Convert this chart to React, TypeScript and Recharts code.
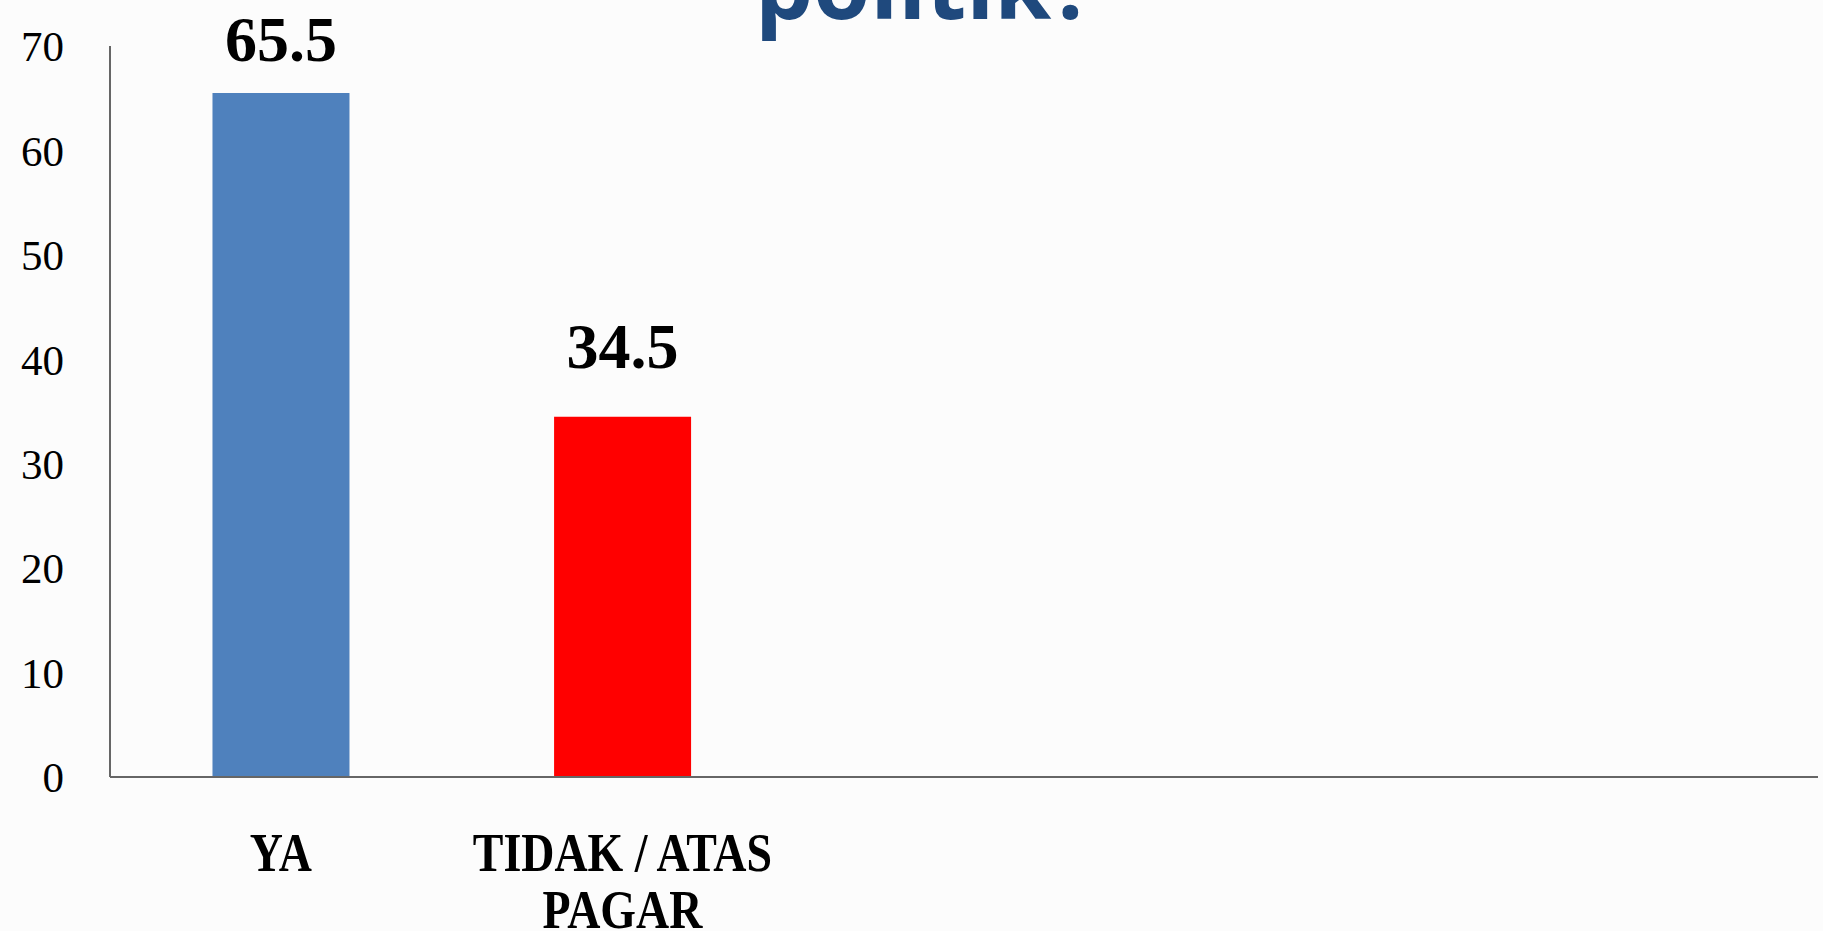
import React from 'react';
import { BarChart, Bar, XAxis, YAxis, Cell, LabelList } from 'recharts';

const categories = ['YA', 'TIDAK / ATAS PAGAR', '', '', ''];
const tickLines = [['YA'], ['TIDAK / ATAS', 'PAGAR'], [], [], []];
const values = [65.5, 34.5, null, null, null];
const barColors = ['#4F81BD', '#FF0000', '#4F81BD', '#4F81BD', '#4F81BD'];
const yTicks = [0, 10, 20, 30, 40, 50, 60, 70];
const titleText = 'politik?';

const chartData = categories.map((name, i) => ({ name, value: values[i] }));

const XTick = (props: any) => {
  const { x, y, index } = props;
  const lines = tickLines[index] || [];
  return (
    <g transform={`translate(${x},${y})`}>
      <text
        transform="scale(0.85,1)"
        textAnchor="middle"
        fontFamily="'Liberation Serif', serif"
        fontWeight="bold"
        fontSize={54}
        fill="#000"
      >
        {lines.map((line: string, i: number) => (
          <tspan key={i} x={0} y={94 + i * 57}>
            {line}
          </tspan>
        ))}
      </text>
    </g>
  );
};

const ValueLabel = (props: any) => {
  const { x, y, width, value } = props;
  if (value === null || value === undefined) return null;
  const baseline = Math.max(y - 49, 61);
  return (
    <text
      x={x + width / 2}
      y={baseline}
      textAnchor="middle"
      fontFamily="'Liberation Serif', serif"
      fontWeight="bold"
      fontSize={64}
      fill="#000"
    >
      {value}
    </text>
  );
};

export default function App() {
  return (
    <div
      style={{
        position: 'absolute',
        left: 0,
        top: 0,
        width: 1823,
        height: 931,
        background: '#fcfcfc',
        overflow: 'hidden',
      }}
    >
      <BarChart
        width={1823}
        height={931}
        data={chartData}
        margin={{ top: 46, right: 5, left: 0, bottom: 0 }}
        barCategoryGap="30%"
      >
        <XAxis
          dataKey="name"
          height={154}
          tickLine={false}
          tickSize={0}
          tickMargin={0}
          axisLine={{ stroke: '#666666', strokeWidth: 2 }}
          tick={<XTick />}
          interval={0}
        />
        <YAxis
          width={110}
          domain={[0, 70]}
          ticks={yTicks}
          tickLine={false}
          tickSize={0}
          tickMargin={46}
          axisLine={{ stroke: '#666666', strokeWidth: 2 }}
          tick={{ fontFamily: "'Liberation Serif', serif", fontSize: 43, fill: '#000' }}
        />
        <Bar dataKey="value" isAnimationActive={false}>
          {chartData.map((_, i) => (
            <Cell key={i} fill={barColors[i]} />
          ))}
          <LabelList dataKey="value" content={<ValueLabel />} />
        </Bar>
      </BarChart>
      <svg
        width={1823}
        height={931}
        style={{ position: 'absolute', left: 0, top: 0, pointerEvents: 'none' }}
      >
        <text
          x={755}
          y={19}
          fontFamily="'Open Sans', sans-serif"
          fontWeight="bold"
          fontSize={92}
          fill="#1F497D"
        >
          {titleText}
        </text>
      </svg>
    </div>
  );
}
